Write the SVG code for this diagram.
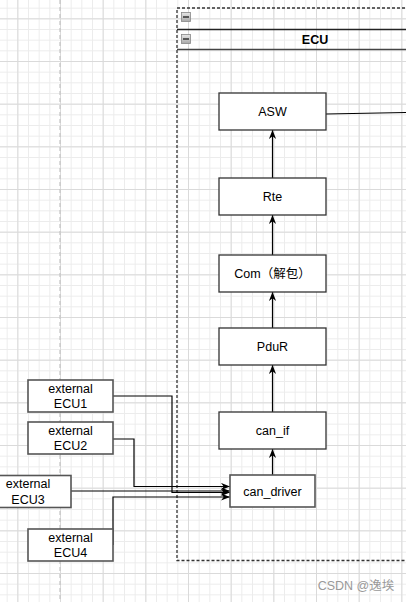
<svg xmlns="http://www.w3.org/2000/svg" width="406" height="602" viewBox="0 0 406 602">
<style>
.node{fill:#fff;stroke:#333;stroke-width:1.3}
.ext{fill:#fff;stroke:#555;stroke-width:1.6}
.t{font-family:"Liberation Sans","Noto Sans CJK SC",sans-serif;font-size:12.5px;fill:#000;text-anchor:middle}
.edge{fill:none;stroke:#000;stroke-width:1.2}
</style>
<defs>
<pattern id="minor" patternUnits="userSpaceOnUse" x="6.667" y="7.667" width="10.667" height="10.667">
<path d="M0,0.5 H10.667 M0.5,0 V10.667" stroke="#ececec" stroke-width="1" fill="none"/>
</pattern>
<pattern id="major" patternUnits="userSpaceOnUse" x="17.333" y="18.333" width="42.667" height="42.667">
<path d="M0,0.5 H42.667 M0.5,0 V42.667" stroke="#dadada" stroke-width="1" fill="none"/>
</pattern>
<marker id="arr" viewBox="0 0 10 8" refX="10" refY="4" markerWidth="9" markerHeight="8" markerUnits="userSpaceOnUse" orient="auto">
<path d="M0,0 L10,4 L0,8 L3,4 Z" fill="#000"/>
</marker>
<linearGradient id="ig" x1="0" y1="0" x2="0" y2="1">
<stop offset="0" stop-color="#e8e8e8"/><stop offset="1" stop-color="#a8a8a8"/>
</linearGradient>
</defs>
<rect width="406" height="602" fill="#fff"/>
<rect width="406" height="602" fill="url(#minor)"/>
<rect width="406" height="602" fill="url(#major)"/>
<line x1="60" y1="0" x2="60" y2="602" stroke="#c4c4c4" stroke-width="1.2" stroke-dasharray="4 3"/>

<g id="ecu-container">
<rect x="177" y="8" width="240" height="552.5" fill="none" stroke="#333" stroke-width="1.3" stroke-dasharray="3 2"/>
<line x1="177" y1="29.5" x2="406" y2="29.5" stroke="#222" stroke-width="1.3"/>
<line x1="177" y1="49.5" x2="406" y2="49.5" stroke="#444" stroke-width="1.3"/>
<rect x="181.5" y="12.5" width="9" height="9" fill="url(#ig)" stroke="#888" stroke-width="0.8"/>
<line x1="183" y1="17" x2="189" y2="17" stroke="#333" stroke-width="1.5"/>
<rect x="181.5" y="34.5" width="9" height="9" fill="url(#ig)" stroke="#888" stroke-width="0.8"/>
<line x1="183" y1="39" x2="189" y2="39" stroke="#333" stroke-width="1.5"/>
<text x="315" y="44" class="t" style="font-weight:bold">ECU</text>
</g>

<g id="connectors">
<path class="edge" d="M326,114 L406,112.5"/>
<path class="edge" d="M272.5,475 V449" marker-end="url(#arr)"/>
<path class="edge" d="M272.5,412 V365" marker-end="url(#arr)"/>
<path class="edge" d="M272.5,328 V292" marker-end="url(#arr)"/>
<path class="edge" d="M272.5,255 V215" marker-end="url(#arr)"/>
<path class="edge" d="M272.5,178 V130" marker-end="url(#arr)"/>
<path class="edge" d="M113,396 H172 V492.5 H230" marker-end="url(#arr)"/>
<path class="edge" d="M113,439 H134 V486.5 H230" marker-end="url(#arr)"/>
<path class="edge" d="M71,491 H230" marker-end="url(#arr)"/>
<path class="edge" d="M113,545 V497 H230" marker-end="url(#arr)"/>
</g>

<g id="ASW"><rect class="node" x="219" y="93" width="107" height="37"/><text class="t" x="272.5" y="116">ASW</text></g>
<g id="Rte"><rect class="node" x="219" y="178" width="107" height="37"/><text class="t" x="272.5" y="201">Rte</text></g>
<g id="Com"><rect class="node" x="219" y="255" width="107" height="37"/><text class="t" x="272.5" y="278">Com（解包）</text></g>
<g id="PduR"><rect class="node" x="219" y="328" width="107" height="37"/><text class="t" x="272.5" y="351">PduR</text></g>
<g id="can_if"><rect class="node" x="219" y="412" width="107" height="37"/><text class="t" x="272.5" y="435">can_if</text></g>
<g id="can_driver"><rect class="ext" x="230" y="475" width="85" height="32"/><text class="t" x="272.5" y="496">can_driver</text></g>

<g id="ECU1"><rect class="ext" x="28" y="380" width="85" height="32"/><text class="t" x="70.5" y="392.5">external</text><text class="t" x="70.5" y="408">ECU1</text></g>
<g id="ECU2"><rect class="ext" x="28" y="422" width="85" height="32"/><text class="t" x="70.5" y="434.5">external</text><text class="t" x="70.5" y="450">ECU2</text></g>
<g id="ECU3"><rect class="ext" x="-14" y="475.5" width="85" height="32"/><text class="t" x="28" y="488">external</text><text class="t" x="28" y="503.5">ECU3</text></g>
<g id="ECU4"><rect class="ext" x="28" y="529" width="85" height="32"/><text class="t" x="70.5" y="541.5">external</text><text class="t" x="70.5" y="557">ECU4</text></g>

<text x="356" y="590" style="font-family:'Liberation Sans','Noto Sans CJK SC',sans-serif;font-size:12.5px;fill:#999;text-anchor:middle">CSDN @逸埃</text>
</svg>
